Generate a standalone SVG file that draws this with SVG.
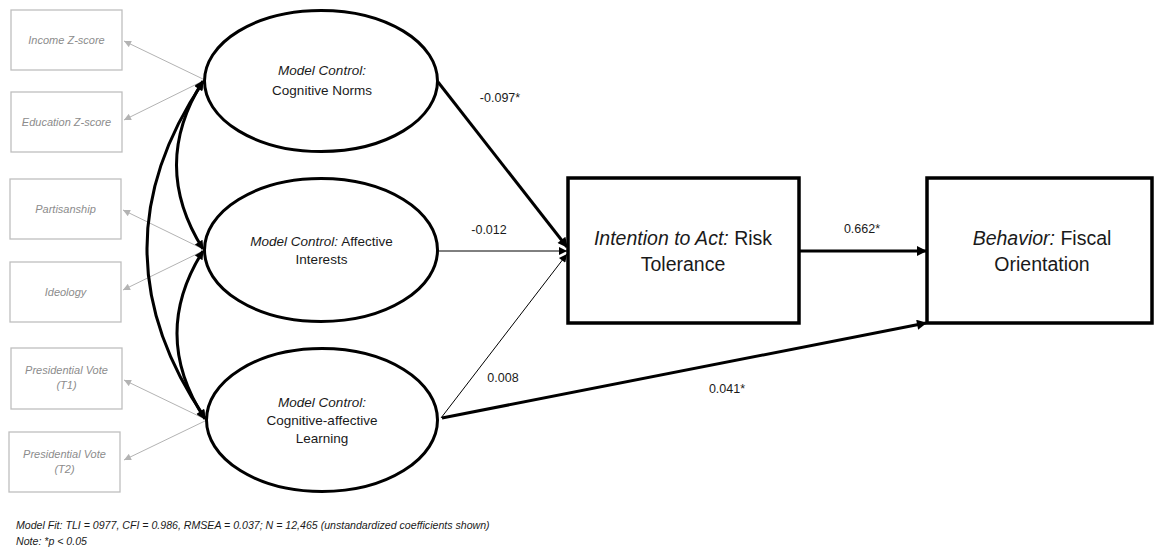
<svg xmlns="http://www.w3.org/2000/svg" width="1155" height="550" viewBox="0 0 1155 550">
  <defs>
    <style>
      .ind rect { fill: #ffffff; stroke: #bfbfbf; stroke-width: 1.3; }
      .ind text { font-family: "Liberation Sans", Arial, sans-serif; font-size: 11px; font-style: italic; fill: #8c8c8c; text-anchor: middle; }
      .lat ellipse { fill: #ffffff; stroke: #000000; stroke-width: 3; }
      .lat text { font-family: "Liberation Sans", Arial, sans-serif; font-size: 13.5px; fill: #1a1a1a; text-anchor: middle; }
      .obs rect { fill: #ffffff; stroke: #000000; stroke-width: 3.5; }
      .obs text { font-family: "Liberation Sans", Arial, sans-serif; font-size: 19.5px; fill: #1a1a1a; text-anchor: middle; }
      .it { font-style: italic; }
      .load { fill: none; stroke: #b3b3b3; stroke-width: 1; marker-end: url(#gray-head); }
      .cov { fill: none; stroke: #000000; stroke-width: 3; marker-start: url(#cov-head); marker-end: url(#cov-head); }
      .path-thick { fill: none; stroke: #000000; stroke-width: 3; marker-end: url(#thick-head); }
      .path-thin { fill: none; stroke: #000000; stroke-width: 1; marker-end: url(#thin-head); }
      .coef { font-family: "Liberation Sans", Arial, sans-serif; font-size: 12.5px; fill: #1a1a1a; text-anchor: middle; }
      .foot { font-family: "Liberation Sans", Arial, sans-serif; font-size: 10.6px; font-style: italic; fill: #1a1a1a; }
    </style>
    <marker id="gray-head" viewBox="0 0 10 10" refX="10" refY="5" markerWidth="8" markerHeight="7" markerUnits="userSpaceOnUse" orient="auto">
      <path d="M0,0 L10,5 L0,10 z" fill="#b3b3b3"/>
    </marker>
    <marker id="cov-head" viewBox="0 0 10 10" refX="9" refY="5" markerWidth="11" markerHeight="9" markerUnits="userSpaceOnUse" orient="auto-start-reverse">
      <path d="M0,0 L10,5 L0,10 z" fill="#000000"/>
    </marker>
    <marker id="thick-head" viewBox="0 0 10 10" refX="9" refY="5" markerWidth="12" markerHeight="10" markerUnits="userSpaceOnUse" orient="auto">
      <path d="M0,0 L10,5 L0,10 z" fill="#000000"/>
    </marker>
    <marker id="thin-head" viewBox="0 0 10 10" refX="10" refY="5" markerWidth="10" markerHeight="8" markerUnits="userSpaceOnUse" orient="auto">
      <path d="M0,0 L10,5 L0,10 z" fill="#000000"/>
    </marker>
  </defs>

  <rect width="1155" height="550" fill="#ffffff"/>

  <!-- indicator boxes -->
  <g id="income" class="ind">
    <rect x="11" y="10" width="111" height="60"/>
    <text x="66.5" y="44">Income Z-score</text>
  </g>
  <g id="education" class="ind">
    <rect x="11" y="92" width="111" height="60"/>
    <text x="66.5" y="126">Education Z-score</text>
  </g>
  <g id="partisanship" class="ind">
    <rect x="10" y="179" width="111" height="60"/>
    <text x="65.5" y="213">Partisanship</text>
  </g>
  <g id="ideology" class="ind">
    <rect x="10" y="262" width="111" height="60"/>
    <text x="65.5" y="296">Ideology</text>
  </g>
  <g id="vote-t1" class="ind">
    <rect x="11" y="348" width="111" height="61"/>
    <text x="66.5" y="374">Presidential Vote</text>
    <text x="66.5" y="389">(T1)</text>
  </g>
  <g id="vote-t2" class="ind">
    <rect x="9" y="432" width="111" height="60"/>
    <text x="64.5" y="458">Presidential Vote</text>
    <text x="64.5" y="473">(T2)</text>
  </g>

  <!-- connectors -->
  <g id="connectors">
    <!-- loadings -->
    <path class="load" d="M205,80 L124,41"/>
    <path class="load" d="M205,80 L124,120"/>
    <path class="load" d="M205,250 L123,210"/>
    <path class="load" d="M205,250 L123,290"/>
    <path class="load" d="M207,420 L124,380"/>
    <path class="load" d="M207,420 L124,460"/>
    <!-- covariances -->
    <path class="cov" d="M203,81 Q150,165 203,249"/>
    <path class="cov" d="M203,251 Q150,335 205,419"/>
    <path class="cov" d="M203,82 Q90,250 205,418"/>
    <!-- structural paths -->
    <path class="path-thick" d="M438,82 L567,247"/>
    <path class="path-thin" d="M439,251 L567,251"/>
    <path class="path-thin" d="M441,418 L567,254"/>
    <path class="path-thick" d="M442,418 L926,323"/>
    <path class="path-thick" d="M800,251 L926,251"/>
    <!-- coefficients -->
    <text class="coef" x="500" y="102">-0.097*</text>
    <text class="coef" x="489" y="234">-0.012</text>
    <text class="coef" x="503" y="382">0.008</text>
    <text class="coef" x="727" y="393">0.041*</text>
    <text class="coef" x="862" y="233">0.662*</text>
  </g>

  <!-- latent constructs -->
  <g id="cognitive-norms" class="lat">
    <ellipse cx="321" cy="81" rx="116.5" ry="70.5"/>
    <text x="322" y="75"><tspan class="it">Model Control:</tspan></text>
    <text x="322" y="95">Cognitive Norms</text>
  </g>
  <g id="affective-interests" class="lat">
    <ellipse cx="321" cy="250" rx="116.5" ry="71.5"/>
    <text x="321.5" y="246"><tspan class="it">Model Control:</tspan> Affective</text>
    <text x="321.5" y="264">Interests</text>
  </g>
  <g id="cognitive-affective" class="lat">
    <ellipse cx="322" cy="420" rx="115.5" ry="71.5"/>
    <text x="322" y="407"><tspan class="it">Model Control:</tspan></text>
    <text x="322" y="425">Cognitive-affective</text>
    <text x="322" y="443">Learning</text>
  </g>

  <!-- outcomes -->
  <g id="risk-tolerance" class="obs">
    <rect x="568" y="178" width="231" height="145"/>
    <text x="683" y="245"><tspan class="it">Intention to Act:</tspan> Risk</text>
    <text x="683" y="271">Tolerance</text>
  </g>
  <g id="fiscal-orientation" class="obs">
    <rect x="927" y="178" width="225" height="145"/>
    <text x="1042" y="245"><tspan class="it">Behavior:</tspan> Fiscal</text>
    <text x="1042" y="271">Orientation</text>
  </g>

  <!-- fit statistics -->
  <text class="foot" x="16" y="529">Model Fit: TLI = 0977, CFI = 0.986, RMSEA = 0.037; N = 12,465 (unstandardized coefficients shown)</text>
  <text class="foot" x="16" y="545">Note: *p &lt; 0.05</text>
</svg>
